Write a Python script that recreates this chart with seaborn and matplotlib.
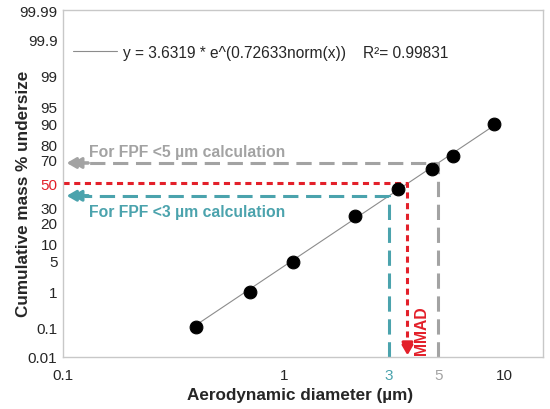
import numpy as np
import matplotlib
matplotlib.use("Agg")
import matplotlib.pyplot as plt
import seaborn as sns
from statistics import NormalDist

# data
diameter = [0.40, 0.70, 1.10, 2.10, 3.28, 4.67, 5.82, 8.92]
cum_pct = [0.105, 1.0, 4.7, 24.6, 44.9, 61.8, 71.9, 89.8]

# fit from the legend: y = a * e^(b * norm(x))
fit_a = 3.6319
fit_b = 0.72633
r2 = 0.99831

y_ticks = [0.01, 0.1, 1, 5, 10, 20, 30, 50, 70, 80, 90, 95, 99, 99.9, 99.99]
x_ticks = [0.1, 1, 3, 5, 10]
x_tick_labels = ["0.1", "1", "3", "5", "10"]

grey = "#a3a3a3"
red = "#e3202a"
teal = "#4ba3ad"

nd = NormalDist()
_inv = np.vectorize(lambda v: nd.inv_cdf(v / 100.0), otypes=[float])
_cdf = np.vectorize(lambda v: nd.cdf(v) * 100.0, otypes=[float])


def to_z(p):
    p = np.clip(np.asarray(p, dtype=float), 1e-6, 100 - 1e-6)
    return _inv(p)


def from_z(z):
    z = np.clip(np.asarray(z, dtype=float), -8, 8)
    return _cdf(z)


sns.set_style("white")
plt.rcParams["font.family"] = ["Liberation Sans", "DejaVu Sans"]

fig = plt.figure(figsize=(5.5, 4.1), dpi=100)
ax = fig.add_axes([0.1145, 0.127, 0.8725, 0.846])
ax.set_xscale("log")
ax.set_yscale("function", functions=(to_z, from_z))

# fitted line between the first and last point
z_fit = np.linspace(float(to_z(cum_pct[0])), float(to_z(cum_pct[-1])), 60)
fit_d = fit_a * np.exp(fit_b * z_fit)
fit_p = from_z(z_fit)
sns.lineplot(x=fit_d, y=fit_p, color="#8c8c8c", lw=0.8, ax=ax, sort=False,
             label="y = %.4f * e^(%.5fnorm(x))    R\u00b2= %.5f" % (fit_a, fit_b, r2))
sns.scatterplot(x=diameter, y=cum_pct, color="black", s=85, edgecolor="black",
                zorder=5, ax=ax, legend=False)

p5 = float(from_z((np.log(5) - np.log(fit_a)) / fit_b))
p3 = float(from_z((np.log(3) - np.log(fit_a)) / fit_b))
mmad = fit_a

arrow = "-|>,head_length=0.55,head_width=0.32"


def double_head(tip, back, step, col):
    # two stacked heads, like the ">>" arrows in the original
    for k in range(2):
        t = (tip[0] * step[0] ** k, tip[1] if step[1] == 0 else tip[1] * step[1] ** k)
        ax.annotate("", xy=t, xytext=back,
                    arrowprops=dict(arrowstyle=arrow, color=col, lw=2.2,
                                    shrinkA=0, shrinkB=0))


# grey: <5 um
ax.plot([5, 5, 0.125], [0.01, p5, p5], color=grey, lw=2.2, dashes=(5, 2.5))
double_head((0.104, p5), (0.13, p5), (1.06, 0), grey)
ax.text(0.131, 75.4, "For FPF <5 \u00b5m calculation", color=grey,
        fontsize=11.3, fontweight="bold", va="center")

# red: MMAD
ax.plot([0.1, mmad, mmad], [50, 50, 0.03], color=red, lw=2.2, dashes=(2, 1.5))
double_head((mmad, 0.0115), (mmad, 0.03), (1, 1.26), red)
ax.text(mmad * 1.16, 0.085, "MMAD", color=red, fontsize=11.3,
        fontweight="bold", rotation=90, va="center", ha="center")

# teal: <3 um
ax.plot([3, 3, 0.125], [0.01, p3, p3], color=teal, lw=2.2, dashes=(5, 2.5))
double_head((0.104, p3), (0.13, p3), (1.06, 0), teal)
ax.text(0.131, 27.4, "For FPF <3 \u00b5m calculation", color=teal,
        fontsize=11.3, fontweight="bold", va="center")

ax.set_xlim(0.1, 14.9)
ax.set_ylim(0.01, 99.99)
ax.set_yticks(y_ticks)
ax.set_yticklabels([("%g" % v) for v in y_ticks])
ax.set_xticks(x_ticks)
ax.set_xticklabels(x_tick_labels)
ax.xaxis.set_minor_locator(matplotlib.ticker.LogLocator(base=10, subs=np.arange(2, 10)))
ax.xaxis.set_minor_formatter(matplotlib.ticker.NullFormatter())

ax.tick_params(axis="both", which="major", direction="in", length=6,
               width=0.8, color="#c8c8c8", labelsize=11, pad=4)
ax.tick_params(axis="x", which="minor", direction="in", length=4,
               width=0.8, color="#c8c8c8")
ax.tick_params(axis="x", which="major", pad=8)

for lab in ax.get_xticklabels():
    if lab.get_text() == "3":
        lab.set_color(teal)
    elif lab.get_text() == "5":
        lab.set_color(grey)
for lab in ax.get_yticklabels():
    if lab.get_text() == "50":
        lab.set_color(red)

for sp in ax.spines.values():
    sp.set_color("#c8c8c8")
    sp.set_linewidth(1.0)

ax.set_xlabel("Aerodynamic diameter (\u00b5m)", fontsize=12.3, fontweight="bold")
ax.set_ylabel("Cumulative mass % undersize", fontsize=12.3, fontweight="bold")
ax.xaxis.set_label_coords(0.495, -0.088)
ax.yaxis.set_label_coords(-0.066, 0.473)

ax.legend(loc="upper left", bbox_to_anchor=(-0.008, 0.94), frameon=False,
          fontsize=11.2, handlelength=2.8, handletextpad=0.4)

fig.savefig("out.png", dpi=100)
